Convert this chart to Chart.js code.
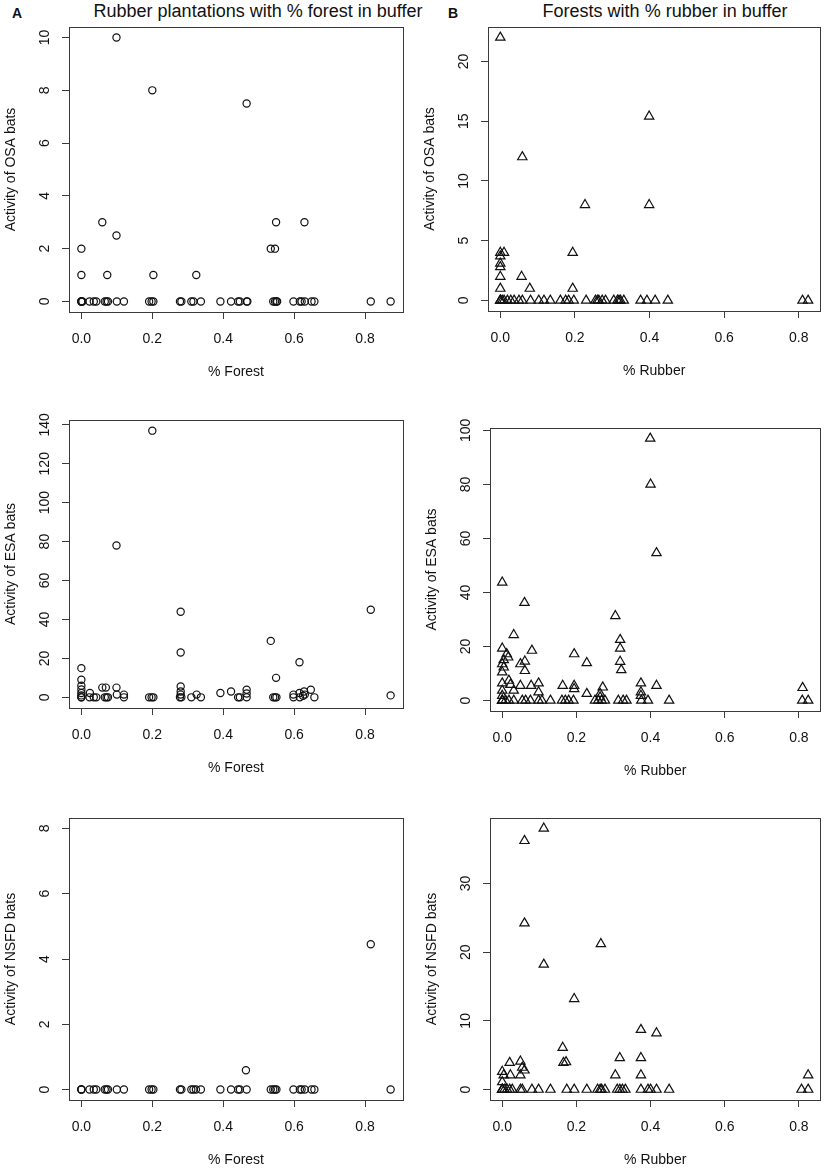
<!DOCTYPE html>
<html>
<head>
<meta charset="utf-8">
<title>Bat activity vs buffer cover</title>
<script src="https://cdn.jsdelivr.net/npm/chart.js@4.4.1/dist/chart.umd.min.js"></script>
<style>
  html, body { margin: 0; padding: 0; background: #fff; }
  body { width: 829px; height: 1171px; position: relative; overflow: hidden;
         font-family: "Liberation Sans", Arial, sans-serif; color: #111; }
  .panel { position: absolute; }
  .title { position: absolute; font-size: 18px; line-height: 18px; text-align: center; white-space: nowrap; }
  .tag { position: absolute; font-size: 14px; line-height: 14px; font-weight: bold; }
</style>
</head>
<body>
<div class="tag" style="left:12px;top:6px">A</div>
<div class="title" style="left:58px;top:2px;width:400px">Rubber plantations with % forest in buffer</div>
<div class="tag" style="left:448px;top:6px">B</div>
<div class="title" style="left:515px;top:2px;width:300px">Forests with % rubber in buffer</div>

<div class="panel" id="pA1"><canvas id="cA1"></canvas></div>
<div class="panel" id="pB1"><canvas id="cB1"></canvas></div>
<div class="panel" id="pA2"><canvas id="cA2"></canvas></div>
<div class="panel" id="pB2"><canvas id="cB2"></canvas></div>
<div class="panel" id="pA3"><canvas id="cA3"></canvas></div>
<div class="panel" id="pB3"><canvas id="cB3"></canvas></div>

<script>
// ---- values ----
const pctTicks = [0, 0.2, 0.4, 0.6, 0.8];
const osaPlantTicks = [0, 2, 4, 6, 8, 10];
const osaForestTicks = [0, 5, 10, 15, 20];
const esaPlantTicks = [0, 20, 40, 60, 80, 100, 120, 140];
const esaForestTicks = [0, 20, 40, 60, 80, 100];
const nsfdPlantTicks = [0, 2, 4, 6, 8];
const nsfdForestTicks = [0, 10, 20, 30];

// rubber plantations: % forest in buffer (x) vs activity (y)
const osaPlantX = [
  0.099, 0.2, 0.466, 0.059, 0.099, 0, 0, 0.073, 0.203, 0.324,
  0.534, 0.546, 0.549, 0.629, 0, 0, 0, 0.003, 0.023, 0.035,
  0.042, 0.066, 0.071, 0.075, 0.1, 0.12, 0.191, 0.198, 0.203, 0.278,
  0.282, 0.31, 0.316, 0.337, 0.392, 0.422, 0.442, 0.447, 0.466, 0.468,
  0.541, 0.546, 0.55, 0.552, 0.598, 0.616, 0.621, 0.63, 0.649, 0.657,
  0.816, 0.872];
const osaPlantY = [
  10, 8, 7.5, 3, 2.5, 2, 1, 1, 1, 1,
  2, 2, 3, 3, 0, 0, 0, 0, 0, 0,
  0, 0, 0, 0, 0, 0, 0, 0, 0, 0,
  0, 0, 0, 0, 0, 0, 0, 0, 0, 0,
  0, 0, 0, 0, 0, 0, 0, 0, 0, 0,
  0, 0];

const esaPlantX = [
  0.2, 0.099, 0.28, 0.816, 0.28, 0.534, 0.615, 0.549, 0, 0.872,
  0, 0, 0, 0, 0, 0.024, 0.059, 0.069, 0.099, 0.1,
  0.12, 0.28, 0.28, 0.28, 0.325, 0.392, 0.422, 0.466, 0.466, 0.598,
  0.615, 0.628, 0.647, 0.63, 0.625, 0, 0, 0.023, 0.035, 0.042,
  0.066, 0.071, 0.075, 0.12, 0.191, 0.198, 0.203, 0.278, 0.282, 0.31,
  0.337, 0.442, 0.447, 0.466, 0.541, 0.546, 0.55, 0.598, 0.616, 0.657];
const esaPlantY = [
  137, 78, 44, 45, 23, 29, 18, 10, 15, 1,
  9, 6, 4, 2.2, 1, 2.2, 5, 5, 5, 1.4,
  1.4, 5.6, 3, 1.4, 1.4, 2.2, 3, 3.9, 2, 1.4,
  2.2, 3, 3.9, 1.4, 0.8, 0, 0, 0, 0, 0,
  0, 0, 0, 0, 0, 0, 0, 0, 0, 0,
  0, 0, 0, 0, 0, 0, 0, 0, 0, 0];

const nsfdPlantX = [
  0.816, 0.464, 0, 0, 0, 0.023, 0.035, 0.042, 0.066, 0.071,
  0.075, 0.1, 0.12, 0.191, 0.198, 0.203, 0.278, 0.282, 0.31, 0.316,
  0.323, 0.337, 0.392, 0.422, 0.442, 0.447, 0.466, 0.534, 0.541, 0.546,
  0.55, 0.598, 0.616, 0.621, 0.63, 0.649, 0.657, 0.872];
const nsfdPlantY = [
  4.45, 0.59, 0, 0, 0, 0, 0, 0, 0, 0,
  0, 0, 0, 0, 0, 0, 0, 0, 0, 0,
  0, 0, 0, 0, 0, 0, 0, 0, 0, 0,
  0, 0, 0, 0, 0, 0, 0, 0];

// forests: % rubber in buffer (x) vs activity (y)
const osaForestX = [
  0, 0.399, 0.059, 0.227, 0.399, 0.194, 0, 0.01, 0, 0,
  0, 0, 0, 0.057, 0.079, 0.194, 0, 0, 0, 0.005,
  0.01, 0.019, 0.028, 0.037, 0.05, 0.059, 0.081, 0.103, 0.117, 0.134,
  0.161, 0.175, 0.183, 0.197, 0.23, 0.255, 0.26, 0.264, 0.273, 0.282,
  0.304, 0.314, 0.318, 0.322, 0.331, 0.376, 0.393, 0.415, 0.449, 0.81,
  0.825];
const osaForestY = [
  22, 15.4, 12, 8, 8, 4, 4, 4, 3.7, 3.1,
  2.8, 2, 1, 2, 1, 1, 0, 0, 0, 0,
  0, 0, 0, 0, 0, 0, 0, 0, 0, 0,
  0, 0, 0, 0, 0, 0, 0, 0, 0, 0,
  0, 0, 0, 0, 0, 0, 0, 0, 0, 0,
  0];

const esaForestX = [
  0.399, 0.4, 0.416, 0, 0.06, 0.031, 0.305, 0.318, 0.318, 0.318,
  0.321, 0.194, 0.228, 0.08, 0, 0.012, 0.016, 0.004, 0, 0.004,
  0, 0.049, 0.061, 0.061, 0, 0.018, 0.022, 0, 0, 0.049,
  0.078, 0.098, 0.098, 0.031, 0.163, 0.194, 0.194, 0.228, 0.271, 0.264,
  0.264, 0.374, 0.374, 0.374, 0.416, 0.81, 0, 0, 0, 0.009,
  0.018, 0.031, 0.054, 0.063, 0.076, 0.098, 0.107, 0.13, 0.161, 0.17,
  0.179, 0.192, 0.25, 0.259, 0.268, 0.277, 0.313, 0.326, 0.335, 0.375,
  0.393, 0.45, 0.809, 0.825];
const esaForestY = [
  97, 80, 54.6, 43.7, 36.2, 24.3, 31.3, 22.5, 19.3, 14.4,
  11.3, 17.2, 13.9, 18.5, 19.3, 17.2, 16, 15, 13.5, 12.3,
  10.5, 13.5, 14.5, 11, 6.4, 7.4, 5.9, 3.7, 1.8, 5.5,
  5.5, 6.4, 3.1, 3.7, 5.5, 5.5, 4.3, 2.5, 4.9, 2.5,
  1.2, 6.4, 3.1, 1.8, 5.5, 4.7, 0, 0, 0, 0,
  0, 0, 0, 0, 0, 0, 0, 0, 0, 0,
  0, 0, 0, 0, 0, 0, 0, 0, 0, 0,
  0, 0, 0, 0];

const nsfdForestX = [
  0.112, 0.06, 0.06, 0.266, 0.112, 0.194, 0.374, 0.416, 0.163, 0.317,
  0.374, 0.165, 0.172, 0.02, 0.049, 0.054, 0.06, 0.049, 0, 0.004,
  0.022, 0, 0.305, 0.374, 0.825, 0, 0, 0, 0.006, 0.013,
  0.02, 0.027, 0.049, 0.054, 0.08, 0.098, 0.13, 0.174, 0.194, 0.228,
  0.257, 0.264, 0.268, 0.277, 0.31, 0.317, 0.324, 0.332, 0.374, 0.393,
  0.4, 0.416, 0.45, 0.807, 0.825];
const nsfdForestY = [
  38, 36.2, 24.2, 21.2, 18.2, 13.2, 8.7, 8.2, 6.1, 4.6,
  4.6, 3.9, 4, 3.9, 4.1, 3.2, 2.8, 2.1, 2.6, 2.1,
  2.1, 1.1, 2.1, 2.1, 2.1, 0, 0, 0, 0, 0,
  0, 0, 0, 0, 0, 0, 0, 0, 0, 0,
  0, 0, 0, 0, 0, 0, 0, 0, 0, 0,
  0, 0, 0, 0, 0];

// ---- drawing ----
const INK = '#111';
const LINE = '#3a3a3a';
Chart.defaults.font.family = '"Liberation Sans", Arial, sans-serif';
Chart.defaults.font.size = 14;
Chart.defaults.color = INK;

// R pads the data range by 4% on each side
function rLim(vals) {
  const lo = Math.min(...vals), hi = Math.max(...vals);
  const pad = (hi - lo) * 0.04;
  return [lo - pad, hi + pad];
}

// box round the plot and rotated y tick labels, like base R graphics
const rFrame = {
  id: 'rFrame',
  afterDatasetsDraw(chart) {
    const { ctx, chartArea: a, scales: { y } } = chart;
    ctx.save();
    ctx.strokeStyle = LINE;
    ctx.lineWidth = 1;
    ctx.strokeRect(Math.round(a.left) + 0.5, Math.round(a.top) + 0.5,
                   Math.round(a.right - a.left), Math.round(a.bottom - a.top));
    ctx.fillStyle = INK;
    ctx.font = '14px "Liberation Sans", Arial, sans-serif';
    ctx.textAlign = 'center';
    ctx.textBaseline = 'middle';
    y.ticks.forEach(t => {
      ctx.save();
      ctx.translate(a.left - 24, y.getPixelForValue(t.value));
      ctx.rotate(-Math.PI / 2);
      ctx.fillText(String(t.value), 0, 0);
      ctx.restore();
    });
    ctx.restore();
  }
};

function panel(id, box, xs, ys, xTicks, yTicks, xTitle, yTitle, shape, yLim) {
  const wrap = document.getElementById('p' + id);
  wrap.style.left = (box[0] - 70) + 'px';
  wrap.style.top = (box[1] - 10) + 'px';
  wrap.style.width = (box[2] - box[0] + 76) + 'px';
  wrap.style.height = (box[3] - box[1] + 80) + 'px';

  const [xMin, xMax] = rLim(xs);
  const [yMin, yMax] = rLim(yLim || ys);
  const grid = { drawOnChartArea: false, drawTicks: true, tickLength: 7, color: LINE, lineWidth: 1 };

  new Chart(document.getElementById('c' + id), {
    type: 'scatter',
    data: {
      datasets: [{
        data: xs.map((x, i) => ({ x: x, y: ys[i] })),
        pointStyle: shape,
        pointRadius: shape === 'triangle' ? 5.4 : 3.6,
        borderWidth: 1.2,
        borderColor: INK,
        backgroundColor: 'rgba(0,0,0,0)'
      }]
    },
    options: {
      responsive: true,
      maintainAspectRatio: false,
      animation: false,
      events: [],
      layout: { padding: { top: 10, right: 6, left: 0, bottom: 0 } },
      plugins: { legend: { display: false }, tooltip: { enabled: false } },
      scales: {
        x: {
          type: 'linear', min: xMin, max: xMax,
          afterBuildTicks: s => { s.ticks = xTicks.map(v => ({ value: v })); },
          afterFit: s => { s.height = 70; },
          grid: grid,
          border: { display: false },
          ticks: { autoSkip: false, maxRotation: 0, padding: 11.6, callback: v => v.toFixed(1) },
          title: { display: true, text: xTitle, padding: { top: 0, bottom: 1.6 } }
        },
        y: {
          type: 'linear', min: yMin, max: yMax,
          afterBuildTicks: s => { s.ticks = yTicks.map(v => ({ value: v })); },
          afterFit: s => { s.width = 70; },
          grid: grid,
          border: { display: false },
          ticks: { display: false },
          title: { display: true, text: yTitle, padding: { top: 4, bottom: 0 } }
        }
      }
    },
    plugins: [rFrame]
  });
}

panel('A1', [69, 27, 403, 312], osaPlantX, osaPlantY, pctTicks, osaPlantTicks, '% Forest', 'Activity of OSA bats', 'circle');
panel('B1', [488, 27, 821, 311], osaForestX, osaForestY, pctTicks, osaForestTicks, '% Rubber', 'Activity of OSA bats', 'triangle');
panel('A2', [69, 420, 403, 708], esaPlantX, esaPlantY, pctTicks, esaPlantTicks, '% Forest', 'Activity of ESA bats', 'circle');
panel('B2', [490, 428, 821, 711], esaForestX, esaForestY, pctTicks, esaForestTicks, '% Rubber', 'Activity of ESA bats', 'triangle');
panel('A3', [69, 818, 403, 1100], nsfdPlantX, nsfdPlantY, pctTicks, nsfdPlantTicks, '% Forest', 'Activity of NSFD bats', 'circle', [0, 8]);
panel('B3', [490, 818, 821, 1100], nsfdForestX, nsfdForestY, pctTicks, nsfdForestTicks, '% Rubber', 'Activity of NSFD bats', 'triangle');
</script>
</body>
</html>
